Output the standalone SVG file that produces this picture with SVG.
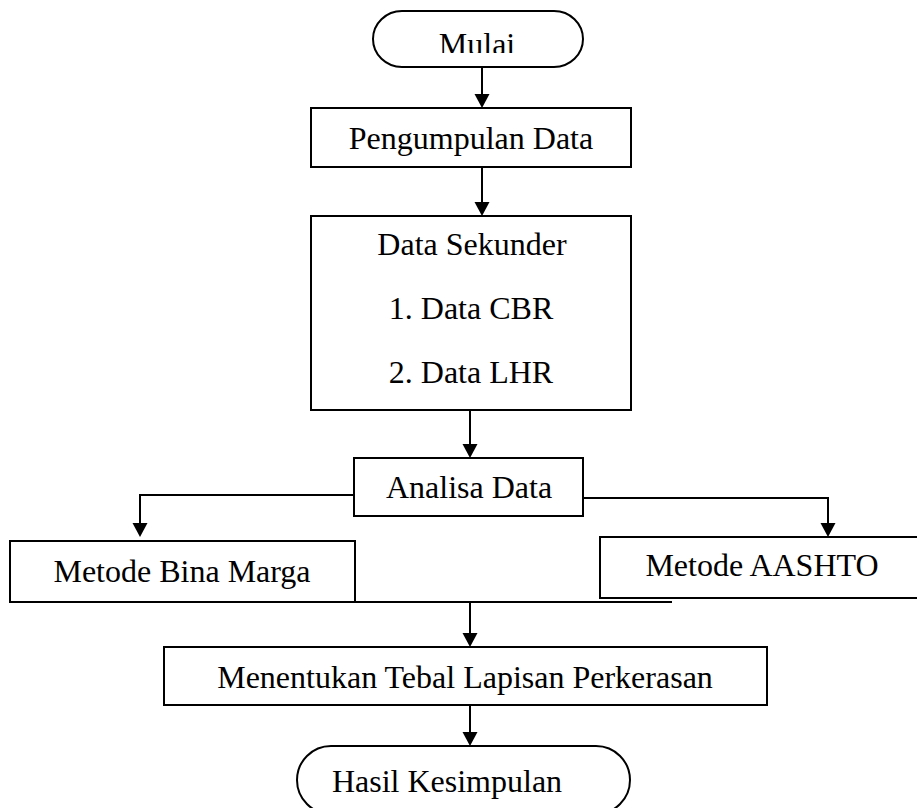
<svg xmlns="http://www.w3.org/2000/svg" width="917" height="808" viewBox="0 0 917 808">
<style>
.box{fill:#fff;stroke:#000;stroke-width:2}
.lbl{font-family:"Liberation Serif","Times New Roman",serif;font-size:32px;fill:#000;text-anchor:middle}
.con{fill:none;stroke:#000;stroke-width:2}
.ah{fill:#000}
</style>
<defs>
<clipPath id="mulaiClip"><rect x="372" y="10" width="212" height="43"/></clipPath>
</defs>
<rect width="917" height="808" fill="#fff"/>
<g id="connectors">
<line class="con" x1="482" y1="68" x2="482" y2="95"/>
<path class="ah" d="M474.5,94 L489.5,94 L482,108 Z"/>
<line class="con" x1="482" y1="167" x2="482" y2="203"/>
<path class="ah" d="M474.5,202 L489.5,202 L482,216 Z"/>
<line class="con" x1="470" y1="410" x2="470" y2="445"/>
<path class="ah" d="M462.5,444 L477.5,444 L470,458 Z"/>
<polyline class="con" points="354,495 140,495 140,524"/>
<path class="ah" d="M132.5,523 L147.5,523 L140,537 Z"/>
<polyline class="con" points="583,498 828,498 828,524"/>
<path class="ah" d="M820.5,523 L835.5,523 L828,537 Z"/>
<line class="con" x1="10" y1="602" x2="672" y2="602"/>
<line class="con" x1="470" y1="602" x2="470" y2="634"/>
<path class="ah" d="M462.5,633 L477.5,633 L470,647 Z"/>
<line class="con" x1="470" y1="705" x2="470" y2="733"/>
<path class="ah" d="M462.5,732 L477.5,732 L470,746 Z"/>
</g>
<g id="mulai">
<rect class="box" x="373" y="11" width="210" height="56" rx="29" ry="28"/>
<text class="lbl" x="477" y="55" clip-path="url(#mulaiClip)">Mulai</text>
</g>
<g id="pengumpulan">
<rect class="box" x="311" y="108" width="320" height="59"/>
<text class="lbl" x="471" y="149">Pengumpulan Data</text>
</g>
<g id="sekunder">
<rect class="box" x="311" y="216" width="320" height="194"/>
<text class="lbl" x="472" y="255">Data Sekunder</text>
<text class="lbl" x="471" y="319">1. Data CBR</text>
<text class="lbl" x="471" y="383">2. Data LHR</text>
</g>
<g id="analisa">
<rect class="box" x="354" y="458" width="229" height="58"/>
<text class="lbl" x="469" y="498">Analisa Data</text>
</g>
<g id="binamarga">
<rect class="box" x="10" y="541" width="345" height="61"/>
<text class="lbl" x="182" y="582">Metode Bina Marga</text>
</g>
<g id="aashto">
<rect class="box" x="600" y="537" width="330" height="61"/>
<text class="lbl" x="762" y="576">Metode AASHTO</text>
</g>
<g id="menentukan">
<rect class="box" x="164" y="647" width="603" height="58"/>
<text class="lbl" x="465" y="688">Menentukan Tebal Lapisan Perkerasan</text>
</g>
<g id="hasil">
<rect class="box" x="297" y="746" width="333" height="68" rx="34" ry="34"/>
<text class="lbl" x="447" y="792">Hasil Kesimpulan</text>
</g>
</svg>
